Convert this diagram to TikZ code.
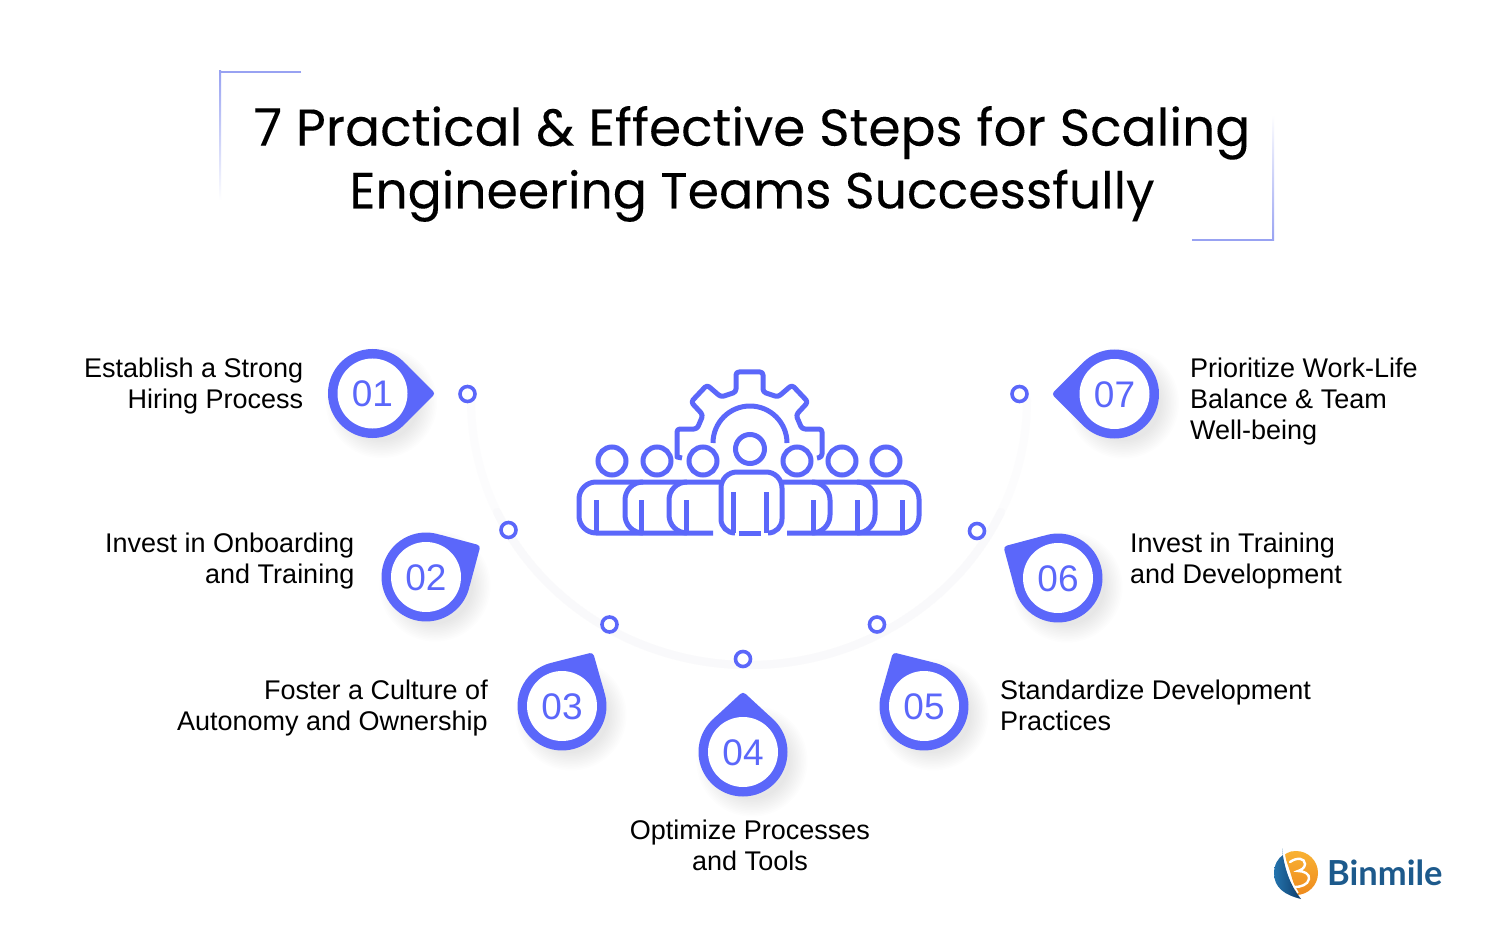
\documentclass[tikz,border=0pt]{standalone}
\usepackage{fontspec}
\setmainfont{Liberation Sans}
\newfontfamily\titlefont[FakeBold=0.12]{Poppins}
\newfontfamily\logofont{Lato}
\usetikzlibrary{calc}
\definecolor{brand}{HTML}{5B67FA}
\definecolor{framec}{HTML}{98A2F2}
\definecolor{arcmid}{HTML}{F9F9FB}
\definecolor{arcend}{HTML}{FCFCFD}
\definecolor{logob}{HTML}{1D5A8C}
\definecolor{logod}{HTML}{0F3D6B}
\definecolor{logom}{HTML}{2474AE}
\definecolor{logoo}{HTML}{F9B233}
\definecolor{logop}{HTML}{EE8A1D}
\tikzset{
  x=1pt,y=-1pt,
  titletxt/.style={font=\titlefont,align=center,text=black,inner sep=0pt},
  labr/.style={font=\fontsize{27}{31}\selectfont,align=right,anchor=east,inner sep=0pt,text=black},
  labl/.style={font=\fontsize{27}{31}\selectfont,align=left,anchor=west,inner sep=0pt,text=black},
  labc/.style={font=\fontsize{27}{31}\selectfont,align=center,inner sep=0pt,text=black},
  numtxt/.style={font=\fontsize{37}{37}\selectfont,text=brand,inner sep=0pt},
  ring/.style={circle,draw=brand,line width=3.6pt,fill=white,minimum size=15pt,inner sep=0pt},
  ico/.style={draw=brand,line width=5pt,line cap=butt,line join=round},
  head/.style={circle,draw=brand,line width=5pt,minimum size=28pt,inner sep=0pt},
  frameline/.style={draw=framec,line width=2pt},
}
\newcommand{\droppin}[6]{%
  \begin{scope}[shift={(#1,#2)}]
    \foreach \k in {0,...,11}{
      \fill[black,opacity=0.008] ($(0,0)+(9pt,-9pt)$) circle[radius={38pt+\k*1.6pt}];
    }
    \begin{scope}[rotate=#3]
      \fill[brand,rounded corners=3.5pt] (45:44.5pt) -- (0:#6pt) -- (-45:44.5pt) -- (-45:30pt) -- (45:30pt) -- cycle;
      \fill[brand] (0,0) circle[radius=44.5pt];
      \fill[white] (0,0) circle[radius=35pt];
    \end{scope}
    \node[numtxt] (#4) at (0,0.5) {#5};
  \end{scope}}
\begin{document}
\begin{tikzpicture}
\useasboundingbox (0,0) rectangle (1500,941);
\fill[white] (0,0) rectangle (1500,941);

% title frame
\draw[frameline] (301,72) -- (220,72);
\shade[top color=framec,bottom color=white] (219,71) rectangle (221,200);
\draw[frameline] (1192,240) -- (1273,240);
\shade[bottom color=framec,top color=white] (1272,115) rectangle (1274,241);
\node[titletxt] (title) at (752,164) {\fontsize{51.8}{63}\selectfont 7 Practical \& Effective Steps for Scaling\\[9pt]\fontsize{50.5}{63}\selectfont Engineering Teams Successfully};

% faint arc
\coordinate (arccentre) at (749,400);
\draw[arcend,line width=8pt,line cap=round] ($(arccentre)+(180:278pt and 265pt)$) arc[start angle=180,end angle=360,x radius=278pt,y radius=265pt];
\draw[arcmid,line width=8pt,line cap=round] ($(arccentre)+(205:278pt and 265pt)$) arc[start angle=205,end angle=335,x radius=278pt,y radius=265pt];

% rings
\node[ring] (r1) at (467.5,394) {};
\node[ring] (r2) at (508.5,530) {};
\node[ring] (r3) at (609.5,624.5) {};
\node[ring] (r4) at (743,659) {};
\node[ring] (r5) at (877,624.5) {};
\node[ring] (r6) at (977,531) {};
\node[ring] (r7) at (1019.5,394) {};

% pins
\droppin{372.5}{393.5}{0}{n1}{01}{63}
\droppin{426}{577}{30}{n2}{02}{63}
\droppin{562}{706}{60}{n3}{03}{62}
\droppin{743}{752}{90}{n4}{04}{60.5}
\droppin{924}{706}{120}{n5}{05}{62}
\droppin{1058}{578}{150}{n6}{06}{63}
\droppin{1114.5}{394}{180}{n7}{07}{63}

% labels
\node[labr] (t1) at (303.5,386) {Establish a Strong\\Hiring Process};
\node[labr] (t2) at (354.5,561) {Invest in Onboarding\\and Training};
\node[labr] (t3) at (488,708) {Foster a Culture of\\Autonomy and Ownership};
\node[labc] (t4) at (750,845) {Optimize Processes\\and Tools};
\node[labl] (t5) at (1000,705) {Standardize Development\\Practices};
\node[labl] (t6) at (1130,561) {Invest in Training\\and Development};
\node[labl] (t7) at (1190,402) {Prioritize Work-Life\\Balance \& Team\\Well-being};

% central icon: gear
\draw[ico] (682,458) -- (677,457) -- (677,434) [rounded corners=3pt] -- (677,429) -- (697,429) -- (703,415) -- (691,402) -- (707,385) -- (721,397) -- (736,392) -- (736,372) -- (763,372) -- (763,392) -- (778,397) -- (792,385) -- (808,402) -- (796,415) -- (802,429) -- (822,429) -- (822,457) -- (817,458);
\draw[ico] (713,443) arc[start angle=180,end angle=0,radius=37pt];
% heads
\node[head] (ha) at (612,461) {};
\node[head] (hb) at (657,461) {};
\node[head] (hc) at (703,461) {};
\node[head] (hd) at (797,461) {};
\node[head] (he) at (842,461) {};
\node[head] (hf) at (886,461) {};
\node[head,minimum size=29pt] (hm) at (750,449) {};
% bodies
\draw[ico] (720,482) -- (596,482) arc[start angle=90,end angle=180,radius=17pt] -- (579,516) arc[start angle=180,end angle=270,radius=17pt] -- (713,533);
\draw[ico] (643,482) arc[start angle=90,end angle=180,radius=18pt] -- (625,515) arc[start angle=180,end angle=270,radius=18pt];
\draw[ico] (687,482) arc[start angle=90,end angle=180,radius=18pt] -- (669,515) arc[start angle=180,end angle=270,radius=18pt];
\draw[ico] (782,482) -- (902,482) arc[start angle=90,end angle=0,radius=17pt] -- (919,516) arc[start angle=0,end angle=-90,radius=17pt] -- (787,533);
\draw[ico] (857,482) arc[start angle=90,end angle=0,radius=18pt] -- (875,515) arc[start angle=0,end angle=-90,radius=18pt];
\draw[ico] (812,482) arc[start angle=90,end angle=0,radius=18pt] -- (830,515) arc[start angle=0,end angle=-90,radius=18pt];
\draw[ico] (735,533) arc[start angle=270,end angle=180,radius=14pt] -- (721,488) arc[start angle=180,end angle=90,radius=16pt] -- (766,472) arc[start angle=90,end angle=0,radius=16pt] -- (782,519) arc[start angle=0,end angle=-90,radius=14pt];
\draw[ico] (739,533) -- (761,533);
\foreach \ax in {596,641,686,813,857,902}{ \draw[ico] (\ax,500) -- (\ax,533); }
\draw[ico] (733,492) -- (733,533);
\draw[ico] (766,492) -- (766,533);

% logo
\shade[top color=logoo,bottom color=logop] (1284,855) .. controls (1290,851) and (1293,851) .. (1296,851) arc[start angle=90,end angle=-90,radius=22pt] .. controls (1293,880) and (1290,870) .. (1284,855) -- cycle;
\shade[left color=logom,right color=logod] (1282,848) .. controls (1284,868) and (1290,885) .. (1301,899) .. controls (1285,895) and (1274,888) .. (1274,873) .. controls (1274,865) and (1278,858) .. (1283,855) -- cycle;
\draw[white,line width=1.6pt] (1284,853) .. controls (1286,868) and (1291,882) .. (1298,893);
\draw[white,line width=2.4pt,line cap=round] (1290,862) .. controls (1297,857) and (1305,858) .. (1305,864) .. controls (1305,868) and (1301,870) .. (1298,871) .. controls (1304,871) and (1310,874) .. (1309,879) .. controls (1308,885) and (1300,887) .. (1295,887);
\node[font=\logofont\bfseries\fontsize{34.5}{34.5}\selectfont,text=logob,anchor=base west,inner sep=0pt] (logo) at (1327,885) {Binmile};
\end{tikzpicture}
\end{document}
